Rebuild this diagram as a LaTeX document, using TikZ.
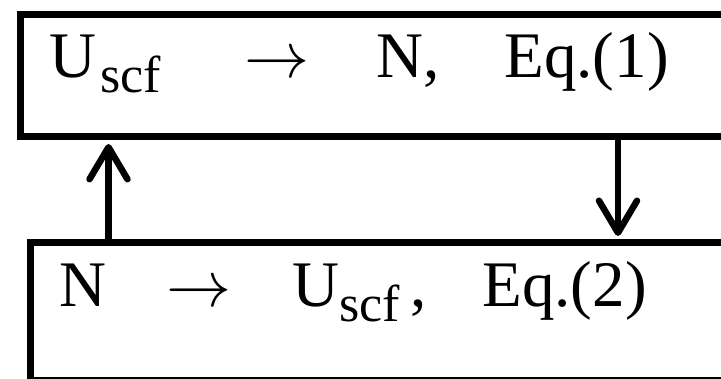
\RequirePackage{fix-cm}
\documentclass[tikz,border=0pt]{standalone}
\usepackage{fontspec}
\setmainfont{Liberation Serif}
\usetikzlibrary{arrows.meta}

\newcommand{\scfsub}{\raisebox{-15pt}{\fontsize{52}{52}\selectfont scf}}

\begin{document}
\begin{tikzpicture}[x=1pt, y=1pt,
    box/.style={draw, line width=7pt, inner sep=0pt, anchor=north west},
    eqtext/.style={inner sep=0pt, anchor=base west, font=\fontsize{65}{70}\selectfont},
    flow/.style={line width=6.5pt, shorten >=3.5pt,
      -{Straight Barb[length=32pt, width=38pt, line cap=round, line join=round]}}]
  \useasboundingbox (0,0) rectangle (721,379);
  \clip (0,0) rectangle (721,379);
  % the two boxes, both running off the right edge
  \node[box, minimum width=723.5pt, minimum height=122.5pt] (topbox) at (16.5,368) {};
  \node[box, minimum width=713.5pt, minimum height=137.5pt] (botbox) at (26.5,139.5) {};
  % equations
  \node[eqtext] (topeq) at (49,301.5)
    {U\hspace{4.4pt}\scfsub\hspace{83.5pt}$\rightarrow$\hspace{66.8pt}N,\hspace{64.8pt}Eq.(1)};
  \node[eqtext] (boteq) at (59,72)
    {N\hspace{60.5pt}$\rightarrow$\hspace{60.6pt}U\scfsub\hspace{11pt},\hspace{55.5pt}Eq.(2)};
  % feedback loop
  \coordinate (upx) at (108.5,0);
  \coordinate (downx) at (618,0);
  \draw[flow] (botbox.north -| upx) -- (topbox.south -| upx);
  \draw[flow] (topbox.south -| downx) -- (botbox.north -| downx);
\end{tikzpicture}
\end{document}
